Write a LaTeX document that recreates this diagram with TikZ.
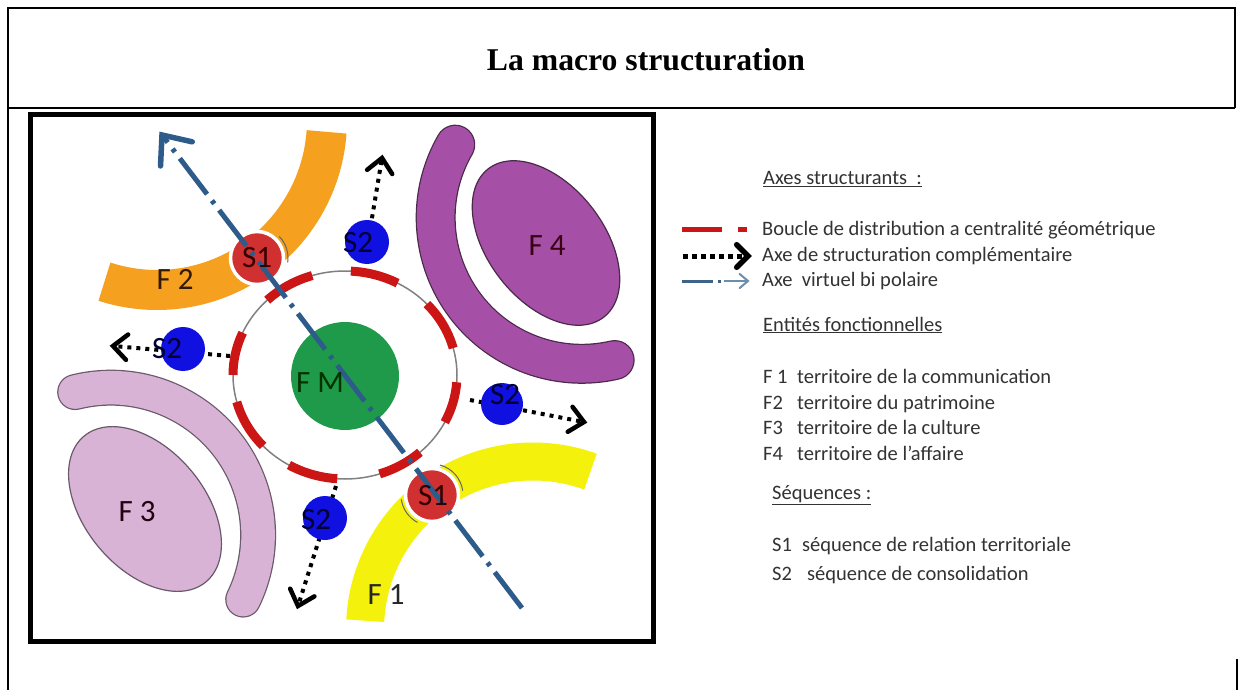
\documentclass[tikz,border=0pt]{standalone}
\usepackage{fontspec}
\setmainfont{Liberation Serif}
\newfontfamily\calib{Carlito}
\usetikzlibrary{calc}
\definecolor{orangeF}{HTML}{F5A01F}
\definecolor{yellowF}{HTML}{F4F20C}
\definecolor{pinkF}{HTML}{D9B3D6}
\definecolor{pinkE}{HTML}{6A5A6A}
\definecolor{purpleF}{HTML}{A64FA6}
\definecolor{purpleE}{HTML}{4A2A4A}
\definecolor{greenF}{HTML}{1F9A4A}
\definecolor{redS}{HTML}{D03030}
\definecolor{blueS}{HTML}{1010E0}
\definecolor{ringred}{HTML}{CC1515}
\definecolor{axisblue}{HTML}{2E5C8A}
\definecolor{legtext}{HTML}{333333}
% open chevron head: #1 style, #2 from, #3 tip, #4 arm length, #5 half angle
\newcommand\mychevron[5]{\draw[#1, solid, line cap=round, line join=miter] ($(#3)!#4!#5:(#2)$) -- (#3) -- ($(#3)!#4!-#5:(#2)$);}
\begin{document}
\begin{tikzpicture}[x=1pt,y=-1pt,
  lab/.style={font=\calib\fontsize{31}{34}\selectfont, inner sep=0pt},
  leg/.style={font=\calib\fontsize{20.5}{24}\selectfont, text=legtext, anchor=base west, inner sep=0pt},
  s1c/.style={circle, fill=redS, draw=white, line width=3.5pt, minimum size=53pt, inner sep=0pt},
  s2c/.style={circle, fill=blueS, minimum size=44pt, inner sep=0pt},
  dotline/.style={line width=4pt, dash pattern=on 4pt off 5pt},
  frameline/.style={line width=1.5pt},
]
\useasboundingbox (0,0) rectangle (1243,690);
\fill[white] (0,0) rectangle (1243,690);
% outer table frame
\draw[frameline] (8,690) -- (8,8) -- (1235,8) -- (1235,108);
\draw[frameline] (8,108) -- (1235,108);
\draw[frameline] (1237,659) -- (1237,690);
\node[font=\bfseries\fontsize{31.7}{36}\selectfont] (title) at (646,60) {La macro structuration};
% map frame
\draw[line width=5pt] (30,115) rectangle (653,641);
% bands
\draw[orangeF, line width=40pt] (157,120) ++(4:170) arc[start angle=4, end angle=108, radius=170];
\draw[yellowF, line width=38pt] (533,629.5) ++(-177:168) arc[start angle=-177, end angle=-70, radius=168];
\draw[pinkE, line width=36pt, line cap=round] (110.8,535) ++(-104:147.3) arc[start angle=-104, end angle=26, radius=147.3];
\draw[pinkF, line width=33.5pt, line cap=round] (110.8,535) ++(-104:147.3) arc[start angle=-104, end angle=26, radius=147.3];
\draw[purpleE, line width=40pt, line cap=round] (581.8,217.7) ++(210:146.1) arc[start angle=210, end angle=77, radius=146.1];
\draw[purpleF, line width=37.5pt, line cap=round] (581.8,217.7) ++(210:146.1) arc[start angle=210, end angle=77, radius=146.1];
% ellipses
\filldraw[fill=pinkF, draw=pinkE, line width=1.2pt, rotate around={-50:(145,509)}] (145,509) ellipse[x radius=95, y radius=60];
\filldraw[fill=purpleF, draw=purpleE, line width=1.2pt, rotate around={-52:(546,243)}] (546,243) ellipse[x radius=94, y radius=58];
% ring
\draw[gray, line width=1.5pt] (345,375) ellipse[x radius=112, y radius=104];
\foreach \a/\b in {-134/-107, -87/-62, -43/-15, 4/27, 48/72, 94/120, 137/165, 180/204}
  \draw[ringred, line width=9pt] (345,375) ++(\a:112 and 104) arc[start angle=\a, end angle=\b, x radius=112, y radius=104];
% centre
\fill[greenF] (345,376) circle[radius=54];
% dotted arrows (under S2 circles)
\coordinate (d1s) at (369,236); \coordinate (d1e) at (382,158);
\coordinate (d2s) at (230,356); \coordinate (d2e) at (113,346);
\coordinate (d3s) at (470,400); \coordinate (d3e) at (584,422);
\coordinate (d4s) at (336,486); \coordinate (d4e) at (298,606);
\foreach \s/\e in {d1s/d1e, d2s/d2e, d3s/d3e, d4s/d4e}{
  \draw[dotline] (\s) -- ($(\e)!3pt!(\s)$);
  \mychevron{line width=4.5pt}{\s}{\e}{19pt}{42}
}
% S1 circles
\node[s1c] (s1a) at (257,258) {};
\node[s1c] (s1b) at (432,495) {};
\draw[black!60, line width=1pt] (257,258) ++(-44:31) arc[start angle=-44, end angle=8, radius=31];
\draw[black!60, line width=1pt] (432,495) ++(-75:31) arc[start angle=-75, end angle=-8, radius=31];
\draw[black!60, line width=1pt] (432,495) ++(118:31) arc[start angle=118, end angle=172, radius=31];
% S2 circles
\node[s2c] (s2a) at (367,242) {};
\node[s2c] (s2b) at (183,349) {};
\node[s2c, minimum size=42pt] (s2c) at (502,404) {};
\node[s2c] (s2d) at (325,518) {};
% bipolar axis
\coordinate (axS) at (522,608);
\coordinate (axN) at (162,135);
\draw[axisblue, line width=5pt, dash pattern=on 45pt off 8pt on 4pt off 8pt] (axS) -- ($(axN)!2pt!(axS)$);
\mychevron{axisblue, line width=5.5pt}{axS}{axN}{31pt}{40}
% labels
\node[lab, text=black!80!red] (l1a) at (257,258) {S1};
\node[lab, text=black!80!red] (l1b) at (433,496) {S1};
\node[lab, text=blue!20!black] (l2a) at (358,243) {S2};
\node[lab, text=blue!20!black] (l2b) at (167,349) {S2};
\node[lab, text=blue!20!black] (l2c) at (505,395) {S2};
\node[lab, text=blue!20!black] (l2d) at (316,520) {S2};
\node[lab, text=black!80!orange] (f2) at (175,279) {F 2};
\node[lab, text=black!85] (f1) at (386,595) {F 1};
\node[lab, text=black!80!purple] (f3) at (137,512) {F 3};
\node[lab, text=black!70!purple] (f4) at (547,246) {F 4};
\node[lab, text=black!80!green] (fm) at (320,383) {F M};
% legend
\coordinate (lr1) at (682,229); \coordinate (lr2) at (722,229);
\coordinate (lr3) at (738,229); \coordinate (lr4) at (747,229);
\draw[ringred, line width=5pt] (lr1) -- (lr2);
\draw[ringred, line width=5pt] (lr3) -- (lr4);
\coordinate (lk1) at (683,256); \coordinate (lk2) at (748,256);
\draw[line width=5pt, dash pattern=on 5pt off 4pt] (lk1) -- ($(lk2)!4pt!(lk1)$);
\mychevron{line width=5.5pt}{lk1}{lk2}{16pt}{45}
\coordinate (lb1) at (682,281); \coordinate (lb2) at (713,281);
\coordinate (lb3) at (718,281); \coordinate (lb4) at (721,281);
\coordinate (lb5) at (724,281); \coordinate (lb6) at (748,281);
\draw[axisblue!80!gray, line width=3pt] (lb1) -- (lb2);
\draw[axisblue!80!gray, line width=3pt] (lb3) -- (lb4);
\draw[axisblue!70!white, line width=2pt] (lb5) -- (lb6);
\mychevron{axisblue!70!white, line width=2pt}{lb5}{lb6}{11pt}{40}
\node[leg] (h1) at (763,185) {\underline{Axes structurants\ \ :}};
\node[leg] (t1) at (762,236) {Boucle de distribution a centralité géométrique};
\node[leg] (t2) at (762,261) {Axe de structuration complémentaire};
\node[leg] (t3) at (762,286) {Axe\ \ virtuel bi polaire};
\node[leg] (h2) at (763,331) {\underline{Entités fonctionnelles}};
\node[leg] (k1) at (763,383) {F 1};
\node[leg] (v1) at (797,383) {territoire de la communication};
\node[leg] (k2) at (763,409) {F2};
\node[leg] (v2) at (797,409) {territoire du patrimoine};
\node[leg] (k3) at (763,434) {F3};
\node[leg] (v3) at (797,434) {territoire de la culture};
\node[leg] (k4) at (763,460) {F4};
\node[leg] (v4) at (797,460) {territoire de l’affaire};
\node[leg] (h3) at (772,499) {\underline{Séquences :}};
\node[leg] (k5) at (772,551) {S1};
\node[leg] (v5) at (802,551) {séquence de relation territoriale};
\node[leg] (k6) at (772,580) {S2};
\node[leg] (v6) at (807,580) {séquence de consolidation};
\end{tikzpicture}
\end{document}
